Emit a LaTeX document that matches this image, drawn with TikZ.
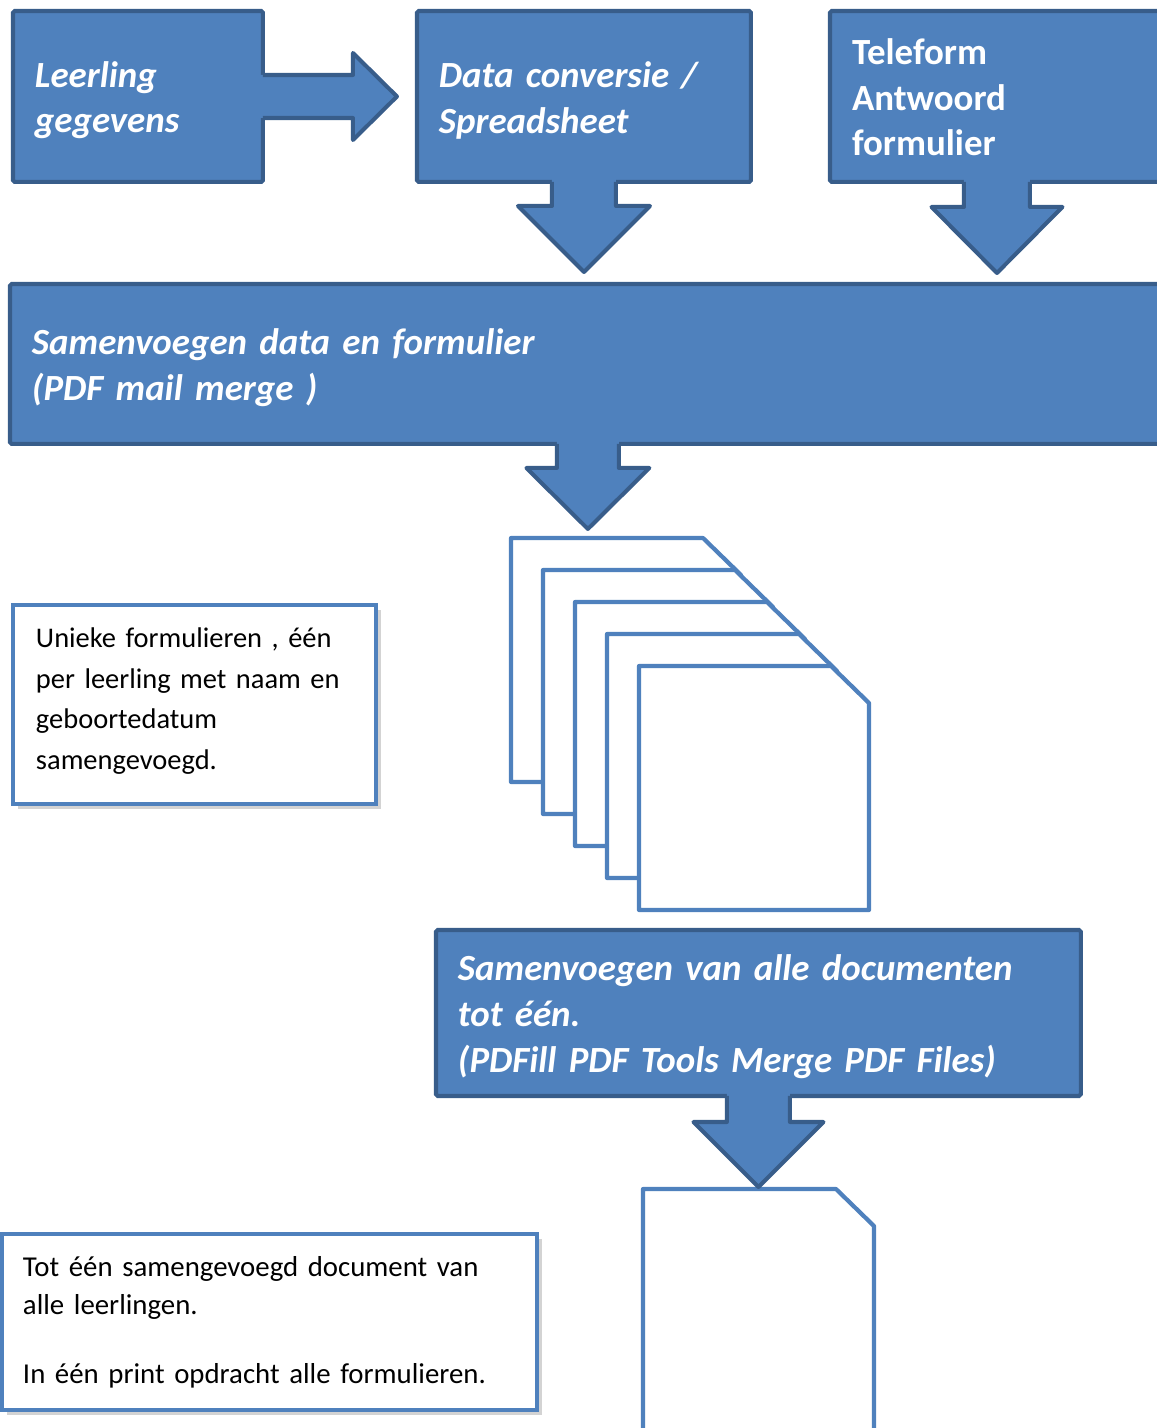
\documentclass[tikz,border=0pt]{standalone}
\usepackage{fontspec}
\setmainfont{Carlito}
\newfontfamily\boxfont{Carlito}[WordSpace=0.75]
\usetikzlibrary{calc,shadows}
\definecolor{boxblue}{RGB}{79,129,189}
\definecolor{boxedge}{RGB}{56,93,138}
\begin{document}
\begin{tikzpicture}[x=0.02cm, y=-0.02cm,
    bluebox/.style={draw=boxedge, fill=boxblue, line width=2.3pt, rounded corners=1pt,
      text=white, align=left, anchor=north west, inner xsep=0.44cm, outer sep=0pt,
      font=\boxfont\fontsize{21}{26}\selectfont\bfseries\itshape,
      execute at begin node={\rule{0pt}{19pt}}},
    notebox/.style={draw=boxblue, fill=white, line width=2.4pt, align=left, anchor=north west,
      inner xsep=0.46cm, outer sep=0pt, font=\fontsize{16.2}{23.3}\selectfont,
      drop shadow={shadow xshift=3pt, shadow yshift=-3pt, opacity=0.35}},
    arrowline/.style={draw=boxedge, line width=2.3pt, line join=round},
    sheet/.style={draw=boxblue, fill=white, line width=2.4pt, line join=round}]
    \useasboundingbox (0,0) rectangle (1157,1428);

    \coordinate (P1) at (511,538);
    \coordinate (P2) at (543,570);
    \coordinate (P3) at (575,602);
    \coordinate (P4) at (607,634);
    \coordinate (P5) at (639,666);
    \coordinate (P6) at (643,1189);

    % boxes
    \node[bluebox, minimum width=5cm, minimum height=3.42cm, text width=4.12cm] (leerling) at (13,11) {Leerling\\gegevens};
    \node[bluebox, minimum width=6.68cm, minimum height=3.42cm, text width=5.8cm] (data) at (417,11) {Data conversie /\\Spreadsheet};
    \node[bluebox, font=\fontsize{21}{26}\selectfont\bfseries, execute at begin node={\rule{0pt}{16pt}}, execute at end node={\rule[-3.4pt]{0pt}{0pt}}, minimum width=6.68cm, minimum height=3.42cm, text width=5.8cm] (tele) at (830,11) {Teleform\\Antwoord\\formulier};
    \node[bluebox, minimum width=23.12cm, minimum height=3.2cm, text width=22.24cm] (merge) at (10,284) {Samenvoegen data en formulier\\(PDF mail merge )};
    \node[bluebox, minimum width=12.9cm, minimum height=3.32cm, text width=12.02cm] (total) at (436,930) {Samenvoegen van alle documenten\\tot één.\\(PDFill PDF Tools Merge PDF Files)};
    \node[notebox, execute at end node={\rule[-6.7pt]{0pt}{0pt}}, minimum width=7.26cm, minimum height=3.98cm, text width=6.34cm] (unique) at (13,605) {Unieke formulieren , één\\per leerling met naam en\\geboortedatum\\samengevoegd.};
    \node[notebox, inner xsep=0.42cm, minimum width=10.7cm, minimum height=3.52cm, text width=9.86cm, font=\fontsize{16.4}{22}\selectfont] (single) at (2,1234) {Tot één samengevoegd document van\\alle leerlingen.\\[17pt]In één print opdracht alle formulieren.};

    % block arrows
    \fill[boxblue] ($(leerling.east)+(-3,-21.5)$) -- ++(93,0) -- ++(0,-22) -- ++(44,43.5) -- ++(-44,43.5) -- ++(0,-22) -- ++(-93,0) -- cycle;
    \draw[arrowline] ($(leerling.east)+(0,-21.5)$) -- ++(90,0) -- ++(0,-22) -- ++(44,43.5) -- ++(-44,43.5) -- ++(0,-22) -- ++(-90,0);

    \fill[boxblue] ($(data.south)+(-32,-3)$) -- ++(0,27) -- ++(-34,0) -- ++(66,66) -- ++(66,-66) -- ++(-34,0) -- ++(0,-27) -- cycle;
    \draw[arrowline] ($(data.south)+(-32,0)$) -- ++(0,24) -- ++(-34,0) -- ++(66,66) -- ++(66,-66) -- ++(-34,0) -- ++(0,-24);

    \fill[boxblue] ($(tele.south)+(-33,-3)$) -- ++(0,28) -- ++(-32.5,0) -- ++(65.5,66) -- ++(65.5,-66) -- ++(-32.5,0) -- ++(0,-28) -- cycle;
    \draw[arrowline] ($(tele.south)+(-33,0)$) -- ++(0,25) -- ++(-32.5,0) -- ++(65.5,66) -- ++(65.5,-66) -- ++(-32.5,0) -- ++(0,-25);

    \fill[boxblue] ($(merge.south)+(-31,-3)$) -- ++(0,27) -- ++(-30.5,0) -- ++(61.5,61) -- ++(61.5,-61) -- ++(-30.5,0) -- ++(0,-27) -- cycle;
    \draw[arrowline] ($(merge.south)+(-31,0)$) -- ++(0,24) -- ++(-30.5,0) -- ++(61.5,61) -- ++(61.5,-61) -- ++(-30.5,0) -- ++(0,-24);

    % pages
    \filldraw[sheet] (P1) -- ++(192,0) -- ++(38,37) -- ++(0,207) -- ++(-230,0) -- cycle;
    \filldraw[sheet] (P2) -- ++(192,0) -- ++(38,37) -- ++(0,207) -- ++(-230,0) -- cycle;
    \filldraw[sheet] (P3) -- ++(192,0) -- ++(38,37) -- ++(0,207) -- ++(-230,0) -- cycle;
    \filldraw[sheet] (P4) -- ++(192,0) -- ++(38,37) -- ++(0,207) -- ++(-230,0) -- cycle;
    \filldraw[sheet] (P5) -- ++(192,0) -- ++(38,37) -- ++(0,207) -- ++(-230,0) -- cycle;
    \filldraw[sheet] (P6) -- ++(193,0) -- ++(38,37) -- ++(0,240) -- ++(-231,0) -- cycle;

    \fill[boxblue] ($(total.south)+(-31.5,-3)$) -- ++(0,29) -- ++(-33.5,0) -- ++(65,65) -- ++(65,-65) -- ++(-33.5,0) -- ++(0,-29) -- cycle;
    \draw[arrowline] ($(total.south)+(-31.5,0)$) -- ++(0,26) -- ++(-33.5,0) -- ++(65,65) -- ++(65,-65) -- ++(-33.5,0) -- ++(0,-26);
\end{tikzpicture}
\end{document}
